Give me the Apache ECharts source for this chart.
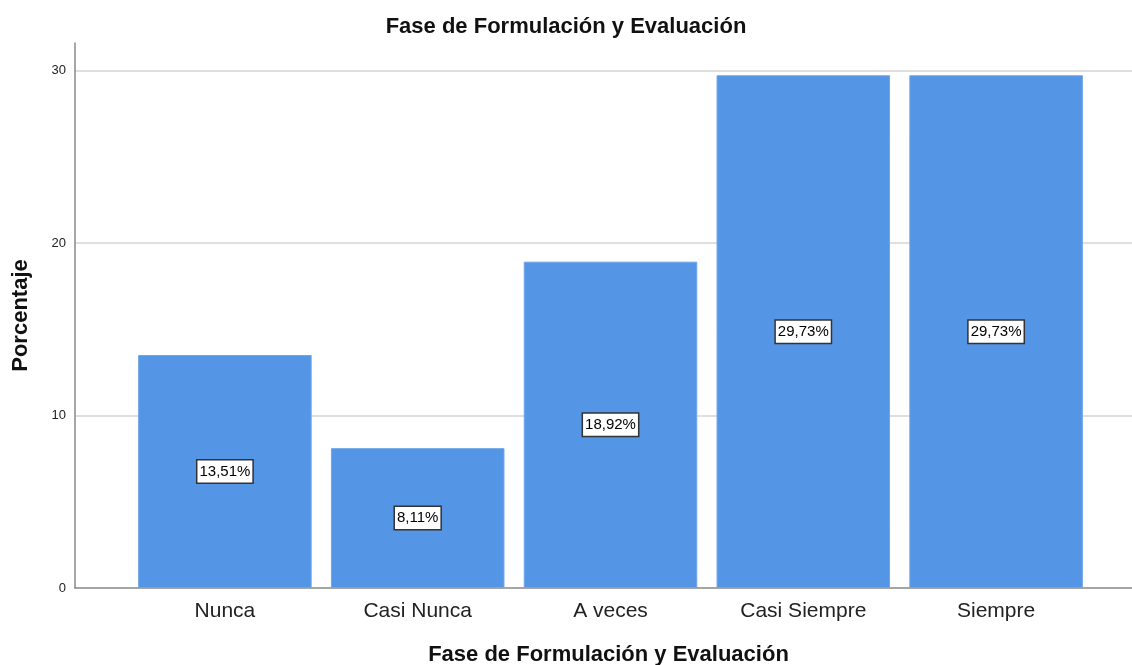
<!DOCTYPE html>
<html>
<head>
<meta charset="utf-8">
<script src="https://cdn.jsdelivr.net/npm/echarts@6/dist/echarts.min.js"></script>
<style>
  html, body { margin: 0; padding: 0; background: #fff; }
  #chart { width: 1132px; height: 665px; }
</style>
</head>
<body>
<div id="chart"></div>
<script>
// datos
const categorias = ['Nunca', 'Casi Nunca', 'A veces', 'Casi Siempre', 'Siempre'];
const porcentajes = [13.51, 8.11, 18.92, 29.73, 29.73];
const yTicks = [0, 10, 20, 30];

const titulo = 'Fase de Formulación y Evaluación';
const fuente = '"Liberation Sans", Arial, sans-serif';

const chart = echarts.init(document.getElementById('chart'));

chart.setOption({
    animation: false,
    title: {
        text: titulo,
        left: 'center',
        top: 11,
        textStyle: { fontFamily: fuente, fontSize: 22, fontWeight: 'bold', color: '#111' }
    },
    grid: [
        // marco con lineas de fondo
        { left: 75, right: -10, top: 43, bottom: 77, outerBoundsMode: 'none' },
        // barras
        { left: 128.5, width: 964, top: 43, bottom: 77, outerBoundsMode: 'none' }
    ],
    xAxis: [
        {
            gridIndex: 0,
            type: 'value',
            min: 0,
            max: 1,
            axisLine: { show: true, onZero: false, lineStyle: { color: '#888', width: 1.5 } },
            axisTick: { show: false },
            axisLabel: { show: false },
            splitLine: { show: false },
            name: titulo,
            nameLocation: 'middle',
            nameGap: 56,
            nameTextStyle: { fontFamily: fuente, fontSize: 22, fontWeight: 'bold', color: '#111' }
        },
        {
            gridIndex: 1,
            type: 'category',
            data: categorias,
            axisLine: { show: false },
            axisTick: { show: false },
            axisLabel: { fontFamily: fuente, fontSize: 21, color: '#222', margin: 13 }
        }
    ],
    yAxis: [
        {
            gridIndex: 0,
            type: 'value',
            min: 0,
            max: 31.6,
            interval: 10,
            axisLine: { show: true, lineStyle: { color: '#888', width: 1.5 } },
            axisTick: { show: false },
            axisLabel: {
                fontFamily: fuente, fontSize: 13, color: '#222', margin: 9,
                showMaxLabel: false,
                formatter: v => yTicks.includes(v) ? String(v) : ''
            },
            splitLine: { show: true, showMinLine: false, showMaxLine: false, lineStyle: { color: '#d4d4d4', width: 1.5 } },
            name: 'Porcentaje',
            nameLocation: 'middle',
            nameGap: 43,
            nameTextStyle: { fontFamily: fuente, fontSize: 22, fontWeight: 'bold', color: '#111' }
        },
        {
            gridIndex: 1,
            type: 'value',
            min: 0,
            max: 31.6,
            show: false
        }
    ],
    series: [
        {
            type: 'bar',
            xAxisIndex: 1,
            yAxisIndex: 1,
            data: porcentajes,
            barCategoryGap: '10%',
            itemStyle: { color: '#5595e5', borderColor: '#6fa5ea', borderWidth: 1 },
            label: {
                show: true,
                position: 'inside',
                formatter: p => p.value.toFixed(2).replace('.', ',') + '%',
                fontFamily: fuente,
                fontSize: 15,
                color: '#000',
                backgroundColor: '#fff',
                borderColor: '#333',
                borderWidth: 1.5,
                padding: [4, 2, 3, 2]
            }
        }
    ]
});
</script>
</body>
</html>
